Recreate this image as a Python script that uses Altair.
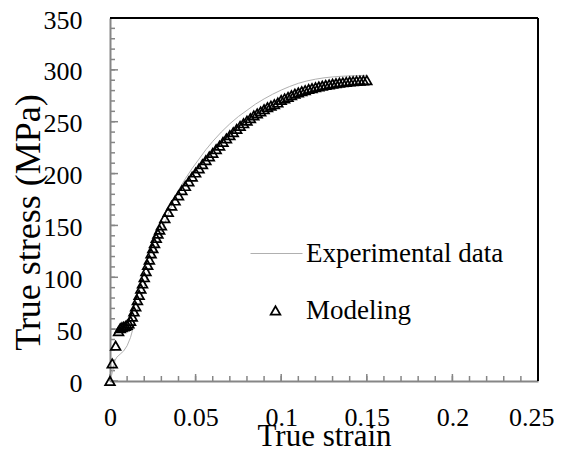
import altair as alt
import pandas as pd

# ---- data ----
exp_strain = [0, 0.001, 0.002, 0.003, 0.004, 0.006, 0.008, 0.010, 0.012, 0.014, 0.016, 0.018,
              0.020, 0.022, 0.024, 0.026, 0.028, 0.030, 0.032, 0.034, 0.036, 0.038, 0.040,
              0.044, 0.048, 0.052, 0.056, 0.060, 0.065, 0.070, 0.075, 0.080, 0.085, 0.090,
              0.095, 0.100, 0.105, 0.110, 0.115, 0.120, 0.125, 0.130, 0.135, 0.140, 0.145, 0.150]
exp_stress = [0, 6, 13, 20, 23, 26, 29, 34, 42, 54, 68, 80,
              90, 101, 112, 123, 133, 143, 152, 161, 169, 178, 184,
              195, 205, 214, 223, 231, 240, 248, 255, 261, 267, 272,
              276.5, 280.5, 284, 287, 289.3, 291, 292.3, 293.2, 293.8, 294.2, 294.5, 294.7]

model_strain = [0, 0.0013, 0.0033, 0.005, 0.006, 0.007, 0.008, 0.009, 0.010, 0.011,
                0.012, 0.013, 0.014, 0.015, 0.016, 0.017, 0.018, 0.019, 0.020, 0.021,
                0.022, 0.023, 0.024, 0.025, 0.026, 0.027, 0.028, 0.029, 0.030,
                0.032, 0.034, 0.036, 0.038, 0.040, 0.042, 0.044, 0.046, 0.048, 0.050,
                0.052, 0.054, 0.056, 0.058, 0.060, 0.062, 0.064, 0.066, 0.068, 0.070,
                0.072, 0.074, 0.076, 0.078, 0.080, 0.082, 0.084, 0.086, 0.088, 0.090,
                0.092, 0.094, 0.096, 0.098, 0.100, 0.102, 0.104, 0.106, 0.108, 0.110,
                0.112, 0.114, 0.116, 0.118, 0.120, 0.122, 0.124, 0.126, 0.128, 0.130,
                0.132, 0.134, 0.136, 0.138, 0.140, 0.142, 0.144, 0.146, 0.148, 0.150]
model_stress = [0, 17, 34, 48, 51, 52, 52.5, 53, 54, 55.5,
                58, 62, 67, 72, 78, 83, 89, 94, 100, 106,
                112, 117, 123, 128, 133, 138, 142, 146, 150,
                157, 163, 169, 174, 179, 184, 188, 192.5, 197, 201,
                205, 209, 213, 216.5, 220, 223.5, 227, 230.5, 234, 237,
                240, 243, 246, 248.5, 251, 253.5, 256, 258, 260, 262,
                264, 265.5, 267, 268.5, 271, 272.5, 274, 275.5, 277, 278.2,
                279.4, 280.5, 281.5, 282.4, 283.2, 284, 284.7, 285.4, 286, 286.6,
                287.1, 287.6, 288, 288.4, 288.8, 289.1, 289.4, 289.6, 289.8, 290]

series_names = ["Experimental data", "Modeling"]

x_ticks = [0, 0.05, 0.1, 0.15, 0.2, 0.25]
y_ticks = [0, 50, 100, 150, 200, 250, 300, 350]
x_minor = [round(0.01 * i, 2) for i in range(26)]
y_minor = list(range(0, 351, 10))

# ---- styling ----
FONT = "Liberation Serif"
W, H = 428, 363
GREY = "#868686"

xs = alt.Scale(domain=[0, 0.25], nice=False, zero=False)
ys = alt.Scale(domain=[0, 350], nice=False, zero=False)

x_axis = alt.Axis(values=x_ticks, format="~g", title="True strain", ticks=False, tickSize=0,
                  grid=False, domainColor=GREY, domainWidth=2, labelFont=FONT, labelFontSize=26,
                  labelColor="black", labelPadding=23, labelFlush=False, labelOverlap=False,
                  labelAlign={"condition": {"test": "datum.value >= 0.25", "value": "right"},
                              "value": "center"},
                  labelOffset={"condition": {"test": "datum.value >= 0.25", "value": 16},
                               "value": 0},
                  titleFont=FONT, titleFontSize=31, titleFontWeight="normal", titleColor="black",
                  titleY=64, titleBaseline="alphabetic")
y_axis = alt.Axis(values=y_ticks, title="True stress (MPa)", ticks=False, tickSize=0,
                  grid=False, domainColor=GREY, domainWidth=2, labelFont=FONT, labelFontSize=26,
                  labelColor="black", labelPadding=28, labelFlush=False, labelOverlap=False,
                  labelOffset=2,
                  titleFont=FONT, titleFontSize=36, titleFontWeight="normal", titleColor="black",
                  titleX=-71, titleY=204, titleBaseline="alphabetic", titleAlign="center")

exp_df = pd.DataFrame({"strain": exp_strain, "stress": exp_stress, "series": series_names[0]})
mod_df = pd.DataFrame({"strain": model_strain, "stress": model_stress, "series": series_names[1]})

X = alt.X("strain:Q", scale=xs, axis=x_axis)
Y = alt.Y("stress:Q", scale=ys, axis=y_axis)

line = alt.Chart(exp_df).mark_line(strokeWidth=1).encode(
    x=X, y=Y,
    color=alt.Color("series:N",
                    scale=alt.Scale(domain=[series_names[0]], range=["#b0b0b0"]),
                    legend=alt.Legend(orient="none", legendX=140, legendY=209, title=None,
                                      padding=0, symbolType="stroke", symbolSize=2704,
                                      symbolStrokeWidth=1, labelOffset=3, labelFont=FONT,
                                      labelFontSize=27, labelColor="black", labelLimit=0)),
)

points = alt.Chart(mod_df).mark_point(filled=False, color="black", strokeWidth=1.7,
                                      size=95, opacity=1).encode(
    x=X, y=Y,
    shape=alt.Shape("series:N",
                    scale=alt.Scale(domain=[series_names[1]], range=["triangle-up"]),
                    legend=alt.Legend(orient="none", legendX=152, legendY=279, title=None,
                                      padding=0, symbolSize=95, symbolStrokeColor="black",
                                      symbolFillColor="transparent", symbolStrokeWidth=1.7,
                                      labelOffset=17, labelFont=FONT, labelFontSize=27,
                                      labelColor="black", labelLimit=0)),
)

# inward tick marks (axis decoration)
y_minor_df = pd.DataFrame({"stress": y_minor})
y_major_df = pd.DataFrame({"stress": y_ticks})
x_minor_df = pd.DataFrame({"strain": x_minor})
x_major_df = pd.DataFrame({"strain": x_ticks})

ytm = alt.Chart(y_minor_df).mark_rule(color=GREY, strokeWidth=1.5).encode(
    y=Y, x=alt.value(0), x2=alt.value(5))
ytM = alt.Chart(y_major_df).mark_rule(color=GREY, strokeWidth=1.5).encode(
    y=Y, x=alt.value(0), x2=alt.value(8))
xtm = alt.Chart(x_minor_df).mark_rule(color=GREY, strokeWidth=1.5).encode(
    x=X, y=alt.value(H), y2=alt.value(H - 5))
xtM = alt.Chart(x_major_df).mark_rule(color=GREY, strokeWidth=1.5).encode(
    x=X, y=alt.value(H), y2=alt.value(H - 7))

one = pd.DataFrame({"k": [0]})
top_border = alt.Chart(one).mark_rule(color="black", strokeWidth=2).encode(
    x=alt.value(0), x2=alt.value(W), y=alt.value(0))
right_border = alt.Chart(one).mark_rule(color="black", strokeWidth=2).encode(
    x=alt.value(W), y=alt.value(0), y2=alt.value(H))

chart = alt.layer(ytm, ytM, xtm, xtM, top_border, right_border, line, points).resolve_legend(
    color="independent", shape="independent"
).properties(
    width=W, height=H,
    autosize=alt.AutoSizeParams(type="none"),
    padding={"left": 102, "top": 10, "right": 16, "bottom": 68},
    background="white",
).configure_view(stroke=None)

chart.save("out.html", embed_options={"renderer": "svg", "actions": False})
